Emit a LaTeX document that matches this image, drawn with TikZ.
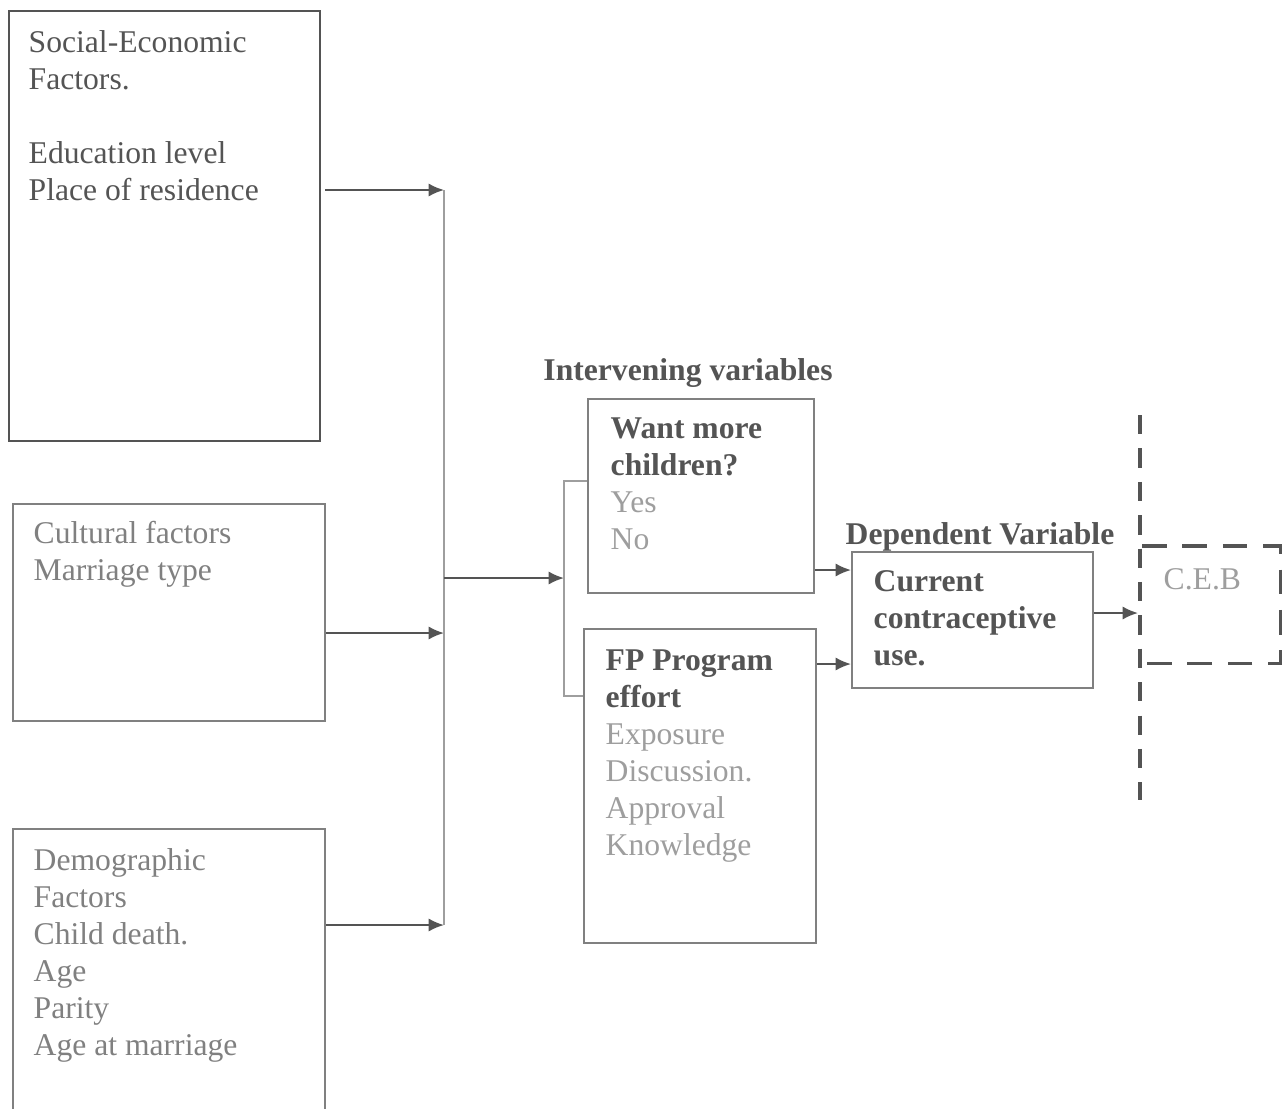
\documentclass[tikz,border=0pt]{standalone}
\usepackage{fontspec}
\setmainfont{Liberation Serif}
\usepackage{xcolor}
\usepackage{tikz}
\usetikzlibrary{arrows.meta, positioning}

\definecolor{inkdark}{gray}{0.33}
\definecolor{inkmid}{gray}{0.50}
\definecolor{inklight}{gray}{0.62}

\tikzset{
  box/.style={draw=inkmid, line width=0.6pt, rectangle, anchor=north west, inner sep=0pt},
  txt/.style={inner sep=0pt, align=left, font=\fontsize{9}{10.53}\selectfont, text=inkmid},
  head/.style={inner sep=0pt, font=\fontsize{9}{10.53}\selectfont\bfseries, text=inkdark},
  arr/.style={draw=inkdark, line width=0.6pt, -{Latex[length=4.4pt,width=3.8pt]}},
  link/.style={draw=inklight, line width=0.6pt},
  vdash/.style={draw=inkdark, line width=0.9pt, dash pattern=on 5.5pt off 4pt},
  cebline/.style={draw=inkdark, line width=0.9pt, dash pattern=on 7pt off 4.5pt}
}

\begin{document}
\begin{tikzpicture}[node distance=2cm]
    \useasboundingbox (0,0) rectangle (12.82,-11.08);

    \node[box, draw=inkdark, minimum width=3.11cm, minimum height=4.30cm] (soc) at (0.08,-0.10) {};
    \node[box, minimum width=3.12cm, minimum height=2.17cm] (cul) at (0.12,-5.03) {};
    \node[box, minimum width=3.12cm, minimum height=2.86cm] (dem) at (0.12,-8.28) {};
    \node[box, minimum width=2.26cm, minimum height=1.94cm] (want) at (5.87,-3.98) {};
    \node[box, minimum width=2.32cm, minimum height=3.14cm] (fp) at (5.83,-6.28) {};
    \node[box, minimum width=2.41cm, minimum height=1.36cm] (cur) at (8.51,-5.51) {};
    \node[box, draw=none, minimum width=1.36cm, minimum height=1.15cm] (ceb) at (11.42,-5.46) {};

    \node[txt, text=inkdark] (soctxt) [below right=0.20 and 0.20 of soc.north west]
        {Social-Economic\\Factors.\\[0.37cm]Education level\\Place of residence};
    \node[txt] (cultxt) [below right=0.18 and 0.21 of cul.north west]
        {Cultural factors\\Marriage type};
    \node[txt] (demtxt) [below right=0.20 and 0.21 of dem.north west]
        {Demographic\\Factors\\Child death.\\Age\\Parity\\Age at marriage};
    \node[txt, text=inklight] (wanttxt) [below right=0.19 and 0.23 of want.north west]
        {\textcolor{inkdark}{\bfseries Want more}\\\textcolor{inkdark}{\bfseries children?}\\Yes\\No};
    \node[txt, text=inklight] (fptxt) [below right=0.21 and 0.22 of fp.north west]
        {\textcolor{inkdark}{\bfseries FP Program}\\\textcolor{inkdark}{\bfseries effort}\\Exposure\\Discussion.\\Approval\\Knowledge};
    \node[txt, text=inkdark, font=\fontsize{9}{10.53}\selectfont\bfseries] (curtxt) [below right=0.19 and 0.22 of cur.north west]
        {Current\\contraceptive\\use.};
    \node[txt, text=inklight] (cebtxt) [below right=0.22 and 0.21 of ceb.north west] {C.E.B};

    \node[head] (ivlabel) at (6.88,-3.73) {Intervening variables};
    \node[head] (dvlabel) at (9.80,-5.37) {Dependent Variable};

    \coordinate (j1) at (4.44,-1.90);
    \coordinate (j2) at (4.44,-6.33);
    \coordinate (j3) at (4.44,-9.25);
    \coordinate (jm) at (4.44,-5.78);
    \coordinate (bm) at (5.64,-5.78);
    \coordinate (bt) at (5.64,-4.81);
    \coordinate (bb) at (5.64,-6.96);
    \coordinate (wy) at (8.51,-5.70);
    \coordinate (fy) at (8.51,-6.64);
    \coordinate (cy) at (11.38,-6.13);
    \coordinate (vtop) at (11.40,-4.15);
    \coordinate (vbot) at (11.40,-8.00);

    \draw[arr] (soc.east |- j1) ++(0.04,0) -- (j1);
    \draw[arr] (cul.east |- j2) -- (j2);
    \draw[arr] (dem.east |- j3) -- (j3);
    \draw[link] (j1) -- (j3);
    \draw[arr] (jm) -- (bm);
    \draw[link] (want.west |- bt) -- (bt) -- (bb) -- (fp.west |- bb);

    \draw[arr] (want.east |- wy) -- (wy);
    \draw[arr] (fp.east |- fy) -- (fy);
    \draw[arr] (cur.east |- cy) -- (cy);
    \draw[vdash] (vtop) -- (vbot);
    \draw[cebline] (ceb.north west) -- (ceb.north east) -- (ceb.south east) -- (ceb.south west);
\end{tikzpicture}
\end{document}
